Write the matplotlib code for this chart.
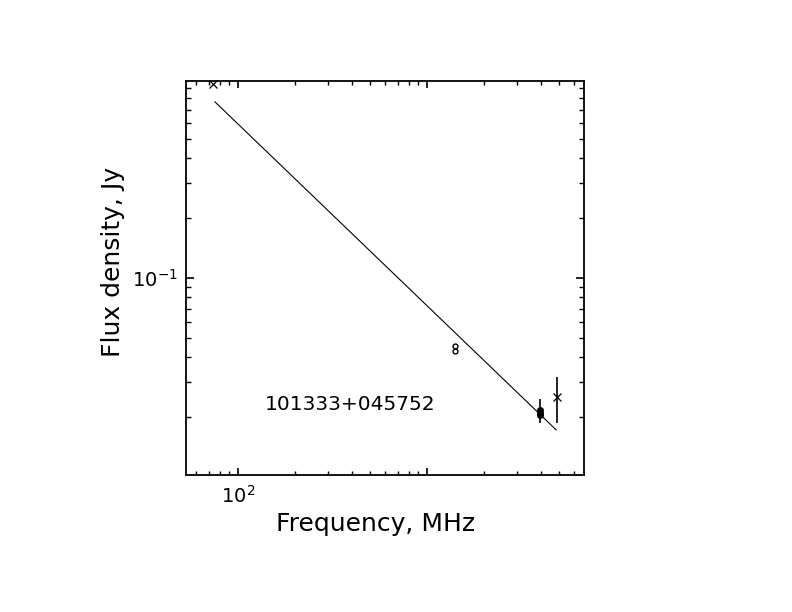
import matplotlib
matplotlib.use("Agg")
from matplotlib import pyplot as plt
from matplotlib.ticker import LogLocator, NullFormatter

# measured points (MHz, Jy)
cross_freq = [74, 4850]
cross_flux = [0.946, 0.0252]
cross_err = [0.0, 0.0065]

circ_freq = [1400, 1400]
circ_flux = [0.0456, 0.0431]

fill_freq = [3950, 3950, 3950]
fill_flux = [0.0216, 0.0210, 0.0205]
fill_err = [0.0030, 0.0, 0.0]

# fitted power law, end points
line_freq = [75.6, 4820]
line_flux = [0.769, 0.0172]

source_name = "101333+045752"

fig = plt.figure(figsize=(7.92, 6.12), dpi=100)
ax = fig.add_axes([0.2348, 0.2239, 0.5025, 0.6438])
ax.set_xscale("log")
ax.set_yscale("log")
ax.set_xlim(53.1, 6760)
ax.set_ylim(0.0102, 0.98)

ax.plot(line_freq, line_flux, color="black", lw=0.8)

ax.errorbar(cross_freq, cross_flux, yerr=cross_err, fmt="x", color="black",
            ms=6, mew=0.9, elinewidth=1.2, capsize=0)
ax.plot(circ_freq, circ_flux, "o", mfc="none", mec="black", ms=3.5, mew=1.0)
ax.errorbar(fill_freq, fill_flux, yerr=fill_err, fmt="o", mfc="black", mec="black",
            color="black", ms=4, elinewidth=1.2, capsize=0)

fig.text(265 / 792, 1 - 405 / 612, source_name, fontsize=14.5, va="center", ha="left")

for s in ax.spines.values():
    s.set_linewidth(1.3)

ax.set_xticks([100, 1000])
ax.set_xticklabels(["$10^2$", ""])
ax.set_yticks([0.1])
ax.set_yticklabels(["$10^{-1}$"])
ax.xaxis.set_minor_locator(LogLocator(subs=range(2, 10), numticks=20))
ax.yaxis.set_minor_locator(LogLocator(subs=range(2, 10), numticks=20))
ax.xaxis.set_minor_formatter(NullFormatter())
ax.yaxis.set_minor_formatter(NullFormatter())
ax.tick_params(axis="x", which="major", direction="in", length=5, width=1.2,
               top=True, labelsize=14, pad=7)
ax.tick_params(axis="x", which="minor", direction="in", length=3, width=1.0, top=True)
ax.tick_params(axis="y", which="major", direction="in", length=6, width=1.2,
               right=True, labelsize=14, pad=6)
ax.tick_params(axis="y", which="minor", direction="in", length=3.5, width=1.0, right=True)

fig.text(376 / 792, 1 - 524 / 612, "Frequency, MHz", fontsize=18, ha="center", va="center")
fig.text(113 / 792, 1 - 262 / 612, "Flux density, Jy", fontsize=18, ha="center",
         va="center", rotation=90)

fig.savefig("out.png", dpi=100)
